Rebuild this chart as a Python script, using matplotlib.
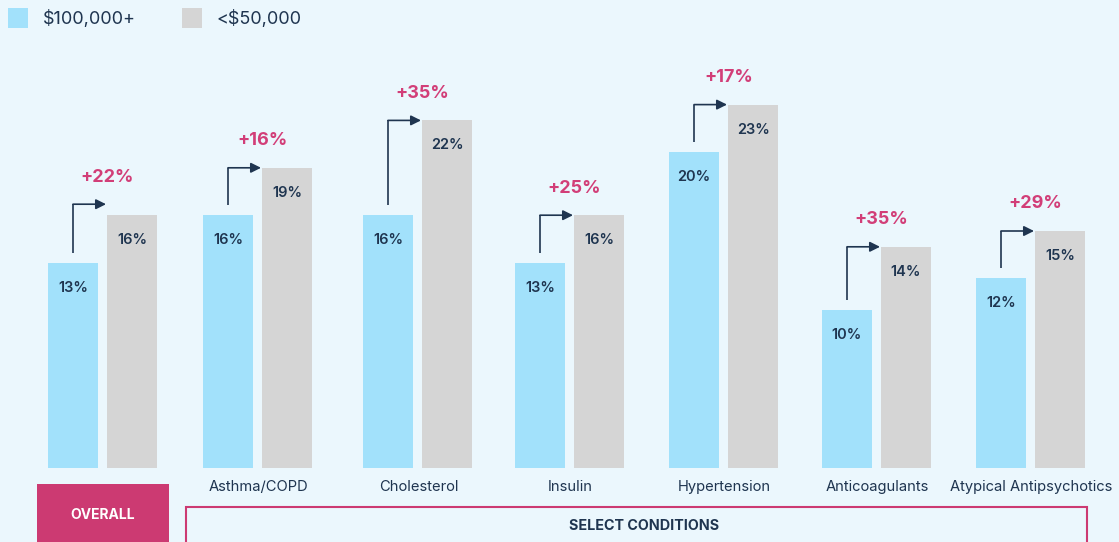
import matplotlib.pyplot as plt
from matplotlib.patches import Rectangle

categories = ["OVERALL", "Asthma/COPD", "Cholesterol", "Insulin",
              "Hypertension", "Anticoagulants", "Atypical Antipsychotics"]
high_income = [13, 16, 16, 13, 20, 10, 12]   # $100,000+
low_income = [16, 19, 22, 16, 23, 14, 15]    # <$50,000
increase = ["+22%", "+16%", "+35%", "+25%", "+17%", "+35%", "+29%"]

# group centres in pixels (layout only)
group_px = [102.5, 257.5, 417.5, 569.5, 723.5, 876.5, 1030.5]

BG = "#EBF7FD"
BLUE = "#A2E1FB"
GRAY = "#D5D5D5"
NAVY = "#1F3550"
PINK = "#D23E78"
BOX_PINK = "#CC3A72"

plt.rcParams['font.family'] = ['Inter', 'DejaVu Sans']

fig = plt.figure(figsize=(11.19, 5.42), dpi=100, facecolor=BG)
ax = fig.add_axes([0, 0, 1, 1])
ax.set_facecolor(BG)
ax.axis("off")

# x in pixels, y in percent (~15.8 px per percent)
ppp = 15.8
ax.set_xlim(0, 1119)
ax.set_ylim(-(542 - 468) / ppp, 468 / ppp)
px_y = 1 / ppp

w = 50
off = 29.5

for i, (hi, lo) in enumerate(zip(high_income, low_income)):
    x = group_px[i]
    ax.bar(x - off, hi, width=w, color=BLUE)
    ax.bar(x + off, lo, width=w, color=GRAY)
    ax.text(x - off, hi - 25 * px_y, f"{hi}%", ha="center", va="center",
            fontsize=10.5, fontweight="semibold", color=NAVY)
    ax.text(x + off, lo - 25 * px_y, f"{lo}%", ha="center", va="center",
            fontsize=10.5, fontweight="semibold", color=NAVY)

    # elbow arrow from the blue bar over to the gray bar
    lift = 11 * px_y if i == 0 else 0
    y_top = lo + lift
    ax.plot([x - off, x - off], [hi + 10 * px_y, y_top], color=NAVY, lw=1.2,
            solid_capstyle="butt")
    ax.annotate("", xy=(x + off - 26, y_top), xytext=(x - off, y_top),
                arrowprops=dict(arrowstyle="-|>,head_length=0.6,head_width=0.3",
                                color=NAVY, lw=1.2, shrinkA=0, shrinkB=0))
    ax.text(x + 5, y_top + 27 * px_y, increase[i], ha="center",
            va="center", fontsize=13, fontweight="bold", color=PINK)

    if i > 0:
        ax.text(x + 1, -19 * px_y, categories[i], ha="center", va="center",
                fontsize=10.6, color=NAVY)

# group boxes under the axis
ax.add_patch(Rectangle((37, -80 * px_y), 132, 64 * px_y,
                       facecolor=BOX_PINK, edgecolor="none", clip_on=False))
ax.text(group_px[0], -47 * px_y, categories[0], ha="center", va="center",
        fontsize=10, fontweight="bold", color="white")
ax.add_patch(Rectangle((186, -80 * px_y), 901, 41 * px_y, facecolor="none",
                       edgecolor=BOX_PINK, lw=1.5, clip_on=False))
ax.text(644, -58 * px_y, "SELECT CONDITIONS", ha="center", va="center",
        fontsize=10.3, fontweight="bold", color=NAVY)

# legend
fig.patches.append(Rectangle((8 / 1119, 1 - 28 / 542), 20 / 1119, 20 / 542,
                             facecolor=BLUE, transform=fig.transFigure))
fig.text(43 / 1119, 1 - 19 / 542, "$100,000+", ha="left", va="center",
         fontsize=13, color=NAVY)
fig.patches.append(Rectangle((182 / 1119, 1 - 28 / 542), 20 / 1119, 20 / 542,
                             facecolor=GRAY, transform=fig.transFigure))
fig.text(216 / 1119, 1 - 19 / 542, "<$50,000", ha="left", va="center",
         fontsize=13, color=NAVY)

fig.savefig("out.png", dpi=100, facecolor=BG)
